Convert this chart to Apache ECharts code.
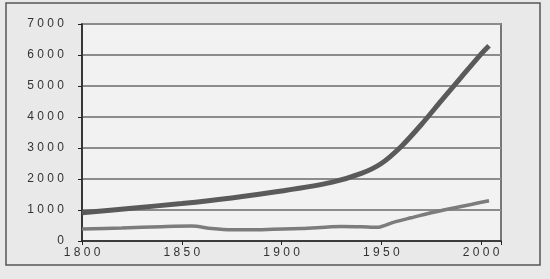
<!DOCTYPE html>
<html>
<head>
<meta charset="utf-8">
<script src="https://cdn.jsdelivr.net/npm/echarts@6/dist/echarts.min.js"></script>
<style>
html,body{margin:0;padding:0;background:#e9e9e9;}
#c{width:550px;height:279px;}
</style>
</head>
<body>
<div id="c"></div>
<script>
// Upper series (world population, millions)
var upperYears  = [1800, 1825, 1850, 1875, 1900, 1925, 1940, 1950, 1960, 1970, 1980, 1990, 2000, 2004];
var upperValues = [910, 1060, 1210, 1390, 1610, 1890, 2180, 2500, 3050, 3750, 4520, 5280, 6030, 6300];
// Lower series
var lowerYears  = [1800, 1820, 1840, 1855, 1865, 1875, 1890, 1910, 1930, 1940, 1948, 1956, 1965, 1975, 1985, 1995, 2004];
var lowerValues = [385, 420, 460, 480, 400, 360, 365, 400, 470, 460, 440, 600, 750, 910, 1050, 1180, 1300];
// Axis tick labels
var xTicks = [1800, 1850, 1900, 1950, 2000];
var yTicks = [0, 1000, 2000, 3000, 4000, 5000, 6000, 7000];

function spaced(v){ return String(v).split('').join(' '); }
function pairs(xs, ys){ return xs.map(function(x,i){ return [x, ys[i]]; }); }

var chart = echarts.init(document.getElementById('c'));
chart.setOption({
  backgroundColor: '#e9e9e9',
  animation: false,
  graphic: [{
    type: 'rect', silent: true,
    shape: {x: 6, y: 3, width: 534, height: 262},
    style: {fill: 'transparent', stroke: '#555', lineWidth: 1.5}
  }],
  grid: {left: 82, right: 49, top: 24, bottom: 38, show: true, backgroundColor: '#f2f2f2',
         borderWidth: 2, borderColor: '#777'},
  xAxis: {
    type: 'value', min: 1800, max: 2010, interval: 50,
    axisLine: {show: true, onZero: false, lineStyle: {color: '#222', width: 1.5}},
    axisTick: {show: true, inside: false, length: 4, lineStyle: {color: '#222'}},
    splitLine: {show: false},
    axisLabel: {margin: 6, color: '#333', fontSize: 12, fontFamily: 'Liberation Sans',
      formatter: function(v){ return xTicks.indexOf(v) >= 0 ? spaced(v) : ''; }}
  },
  yAxis: {
    type: 'value', min: 0, max: 7000, interval: 1000,
    axisLine: {show: true, onZero: false, lineStyle: {color: '#222', width: 1.5}},
    axisTick: {show: true, inside: false, length: 4, lineStyle: {color: '#222'}},
    splitLine: {show: true, lineStyle: {color: '#8c8c8c', width: 2}},
    axisLabel: {margin: 18, color: '#333', fontSize: 12, fontFamily: 'Liberation Sans',
      formatter: function(v){ return yTicks.indexOf(v) >= 0 ? spaced(v) : ''; }}
  },
  series: [
    {type: 'line', data: pairs(upperYears, upperValues), smooth: 0.3, showSymbol: false,
     lineStyle: {color: '#5a5a5a', width: 5}, z: 3},
    {type: 'line', data: pairs(lowerYears, lowerValues), smooth: 0.3, showSymbol: false,
     lineStyle: {color: '#7c7c7c', width: 3.5}, z: 2}
  ]
});
</script>
</body>
</html>
